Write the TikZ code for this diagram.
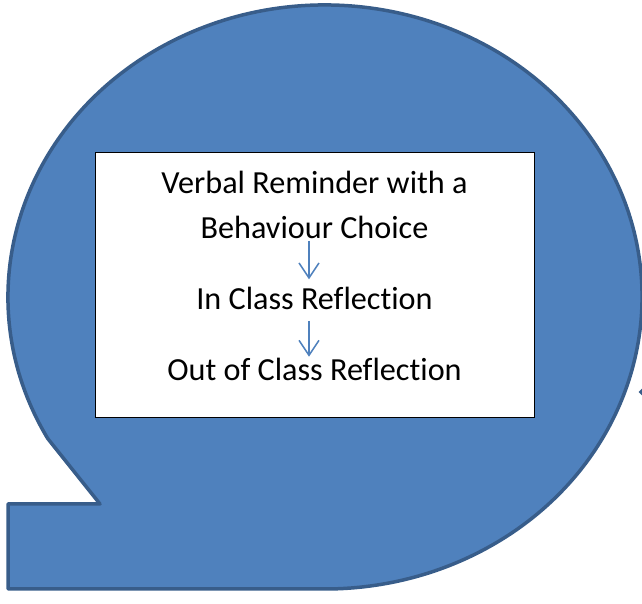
\documentclass[tikz,border=0pt]{standalone}
\usepackage{fontspec}
\setmainfont{Carlito}[Ligatures=NoCommon]
\usetikzlibrary{arrows.meta,calc}
\definecolor{shapefill}{HTML}{4F81BD}
\definecolor{shapeline}{HTML}{385D8A}
\tikzset{
  bubble/.style={fill=shapefill,draw=shapeline,line width=3.5pt,line join=round},
  textbox/.style={draw=black,fill=white,line width=1pt,minimum width=439pt,minimum height=265pt,inner sep=0pt},
  steptext/.style={anchor=base,inner sep=0pt,font=\fontsize{32.2}{38}\selectfont},
  flowarrow/.style={draw=shapefill,line width=1.5pt,-{Straight Barb[length=15pt,width=20pt,line width=1.5pt]}}
}
\begin{document}
\begin{tikzpicture}[x=1pt,y=1pt]
\useasboundingbox (0,0) rectangle (642,604);
\coordinate (c) at (325,307);
\coordinate (tailtop) at (100,100);
\coordinate (arcstart) at ($(c)+(209:317pt and 292pt)$);
\path[bubble] (8,100) -- (tailtop) -- (arcstart)
  arc[start angle=209,end angle=-90,x radius=317pt,y radius=292pt]
  -- (8,15) -- cycle;
\fill[shapeline] (638.5,212) -- (642,215.5) -- (642,208.5) -- cycle;
\node[textbox] (box) at (314.5,318.5) {};
\node[steptext] (l1) at (314.5,410.7) {Verbal Reminder with a};
\node[steptext] (l2) at (314.5,365.7) {Behaviour Choice};
\node[steptext] (l3) at (314.5,294.7) {In Class Reflection};
\node[steptext] (l4) at (314.5,223.3) {Out of Class Reflection};
\draw[flowarrow] ([xshift=-5.5pt,yshift=-2.5pt]l2.base) -- ([xshift=-5.5pt,yshift=30pt]l3.base);
\draw[flowarrow] ([xshift=-5.5pt,yshift=-11.5pt]l3.base) -- ([xshift=-5.5pt,yshift=24pt]l4.base);
\end{tikzpicture}
\end{document}
